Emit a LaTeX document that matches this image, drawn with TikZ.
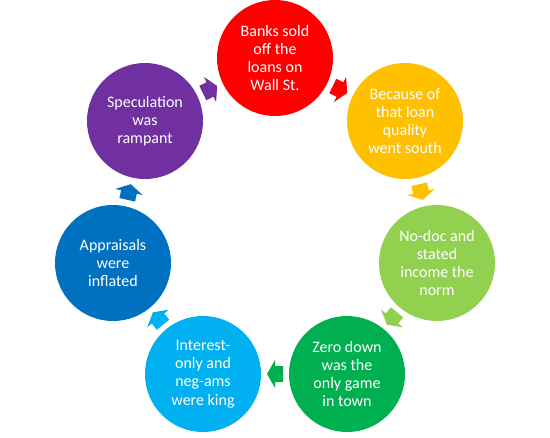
\documentclass[tikz,border=0pt]{standalone}
\usepackage{fontspec}
\setmainfont{Carlito}
\usetikzlibrary{calc}
\definecolor{cred}{HTML}{FF0000}
\definecolor{cyellow}{HTML}{FFC000}
\definecolor{clime}{HTML}{92D050}
\definecolor{cgreen}{HTML}{00B050}
\definecolor{csky}{HTML}{00B0F0}
\definecolor{cblue}{HTML}{0070C0}
\definecolor{cpurple}{HTML}{7030A0}
\newcommand{\cycarrow}[3]{%
  \path let \p1=(#1), \p2=(#2), \n1={atan2(\y2-\y1,\x2-\x1)} in
    \pgfextra{\xdef\cycang{\n1}};
  \begin{scope}[shift={($(#1)!0.5!(#2)$)}, rotate=\cycang]
    \fill[#3] (-8,-8) -- (0,-8) -- (0,-14) -- (8,0) -- (0,14) -- (0,8) -- (-8,8) -- cycle;
  \end{scope}}

\begin{document}
\begin{tikzpicture}[x=0.75pt,y=-0.75pt, cnode/.style={circle,minimum size=87pt,inner sep=0pt,align=center,text=white,font=\fontsize{12}{13.7}\selectfont}]
    \useasboundingbox (0,0) rectangle (550,437);
    \node[cnode,fill=cred] (banks) at (275,58) {Banks sold\\off the\\loans on\\Wall St.};
    \node[cnode,fill=cyellow] (quality) at (405,121) {Because of\\that loan\\quality\\went south};
    \node[cnode,fill=clime] (nodoc) at (437,263) {No-doc and\\stated\\income the\\norm};
    \node[cnode,fill=cgreen] (zero) at (347,374) {Zero down\\was the\\only game\\in town};
    \node[cnode,fill=csky] (interest) at (203,374) {Interest-\\only and\\neg-ams\\were king};
    \node[cnode,fill=cblue] (apprais) at (113,263) {Appraisals\\were\\inflated};
    \node[cnode,fill=cpurple] (specul) at (145,121) {Speculation\\was\\rampant};

    \cycarrow{banks}{quality}{cred}
    \cycarrow{quality}{nodoc}{cyellow}
    \cycarrow{nodoc}{zero}{clime}
    \cycarrow{zero}{interest}{cgreen}
    \cycarrow{interest}{apprais}{csky}
    \cycarrow{apprais}{specul}{cblue}
    \cycarrow{specul}{banks}{cpurple}
\end{tikzpicture}
\end{document}
